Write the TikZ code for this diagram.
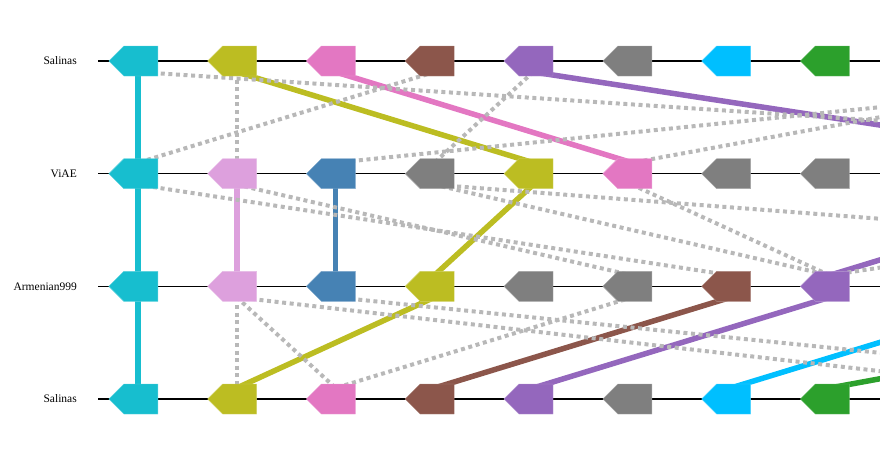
\documentclass[tikz,border=0pt]{standalone}
\usepackage{fontspec}
\setmainfont{Liberation Serif}
\usetikzlibrary{shapes.symbols,backgrounds}
\definecolor{gcyan}{RGB}{23,190,207}
\definecolor{golive}{RGB}{188,189,34}
\definecolor{gpink}{RGB}{227,119,194}
\definecolor{gbrown}{RGB}{140,86,75}
\definecolor{gpurple}{RGB}{148,103,189}
\definecolor{ggray}{RGB}{127,127,127}
\definecolor{gsky}{RGB}{0,191,255}
\definecolor{ggreen}{RGB}{44,160,44}
\definecolor{gplum}{RGB}{221,160,221}
\definecolor{gsteel}{RGB}{70,130,180}
\definecolor{linkgray}{RGB}{184,184,184}
\tikzset{
  gene/.style={signal, signal to=west, signal pointer angle=90, minimum width=49pt,
    minimum height=30pt, inner sep=0pt, anchor=east, fill=#1, draw=#1!70!white, line width=0.4pt},
  link/.style={line width=5.5pt, draw=#1},
  hom/.style={line width=4pt, draw=linkgray, dash pattern=on 4pt off 3.6pt},
  track/.style={line width=1.5pt},
  lab/.style={anchor=east, inner sep=0pt, font=\fontsize{11.5}{13}\selectfont}
}
\begin{document}
\begin{tikzpicture}[x=1pt,y=-1pt]
  \useasboundingbox (0,0) rectangle (880,450);
  \clip (0,0) rectangle (880,450);
  \def\dx{98.8}
  % Genes of each track
  \foreach \r/\y/\cols in {1/61/{gcyan,golive,gpink,gbrown,gpurple,ggray,gsky,ggreen},
      2/173.7/{gcyan,gplum,gsteel,ggray,golive,gpink,ggray,ggray},
      3/286.3/{gcyan,gplum,gsteel,golive,ggray,ggray,gbrown,gpurple},
      4/399/{gcyan,golive,gpink,gbrown,gpurple,ggray,gsky,ggreen}}{
    \foreach \c [count=\k] in \cols
      \node[gene=\c] (g-\r-\k) at ({158+\dx*(\k-1)},\y) {};
  }
  % Genes beyond the right edge
  \foreach \r/\y/\k in {1/61/11, 1/61/12, 2/173.7/11, 2/173.7/14, 2/173.7/15,
      3/286.3/10, 3/286.3/13, 3/286.3/16, 4/399/10, 4/399/12}
    \coordinate (g-\r-\k) at ({158+\dx*(\k-1)},\y);
  \foreach \y/\t [count=\r] in {61/Salinas,173.7/ViAE,286.3/Armenian999,399/Salinas}
    \node[lab] (lab-\r) at (77,\y) {\t};
  \begin{scope}[on background layer]
    \clip (0,0) rectangle (880,450);
    \foreach \y in {61,173.7,286.3,399}
      \draw[track] (98,\y) -- (890,\y);
    % Same-colour links
    \foreach \u/\l/\c in {g-1-1.east/g-2-1.east/gcyan, g-2-1.east/g-3-1.east/gcyan,
        g-3-1.east/g-4-1.east/gcyan, g-1-2.east/g-2-5.east/golive,
        g-2-5.east/g-3-4.east/golive, g-3-4.east/g-4-2.east/golive,
        g-1-3.east/g-2-6.east/gpink, g-2-2.east/g-3-2.east/gplum,
        g-2-3.east/g-3-3.east/gsteel, g-1-5.east/g-2-11/gpurple,
        g-2-11/g-3-8.east/gpurple, g-3-8.east/g-4-5.east/gpurple,
        g-3-7.east/g-4-4.east/gbrown, g-3-10/g-4-7.east/gsky,
        g-3-13/g-4-8.east/ggreen}
      \draw[link=\c] ([xshift=-20pt,yshift=-11pt]\u) -- ([xshift=-20pt,yshift=11pt]\l);
    % Other homologues
    \foreach \u/\l in {g-1-1.east/g-2-15, g-1-2.east/g-2-2.east, g-1-4.east/g-2-1.east,
        g-1-5.east/g-2-4.east, g-1-12/g-2-3.east, g-1-11/g-2-6.east,
        g-2-1.east/g-3-7.east, g-2-2.east/g-3-6.east, g-2-4.east/g-3-8.east,
        g-2-4.east/g-3-16, g-2-6.east/g-3-8.east, g-2-14/g-3-8.east,
        g-3-2.east/g-4-2.east, g-3-2.east/g-4-3.east, g-3-6.east/g-4-3.east,
        g-3-2.east/g-4-10, g-3-3.east/g-4-12}
      \draw[hom] ([xshift=-20pt,yshift=-11pt]\u) -- ([xshift=-20pt,yshift=11pt]\l);
  \end{scope}
\end{tikzpicture}
\end{document}
